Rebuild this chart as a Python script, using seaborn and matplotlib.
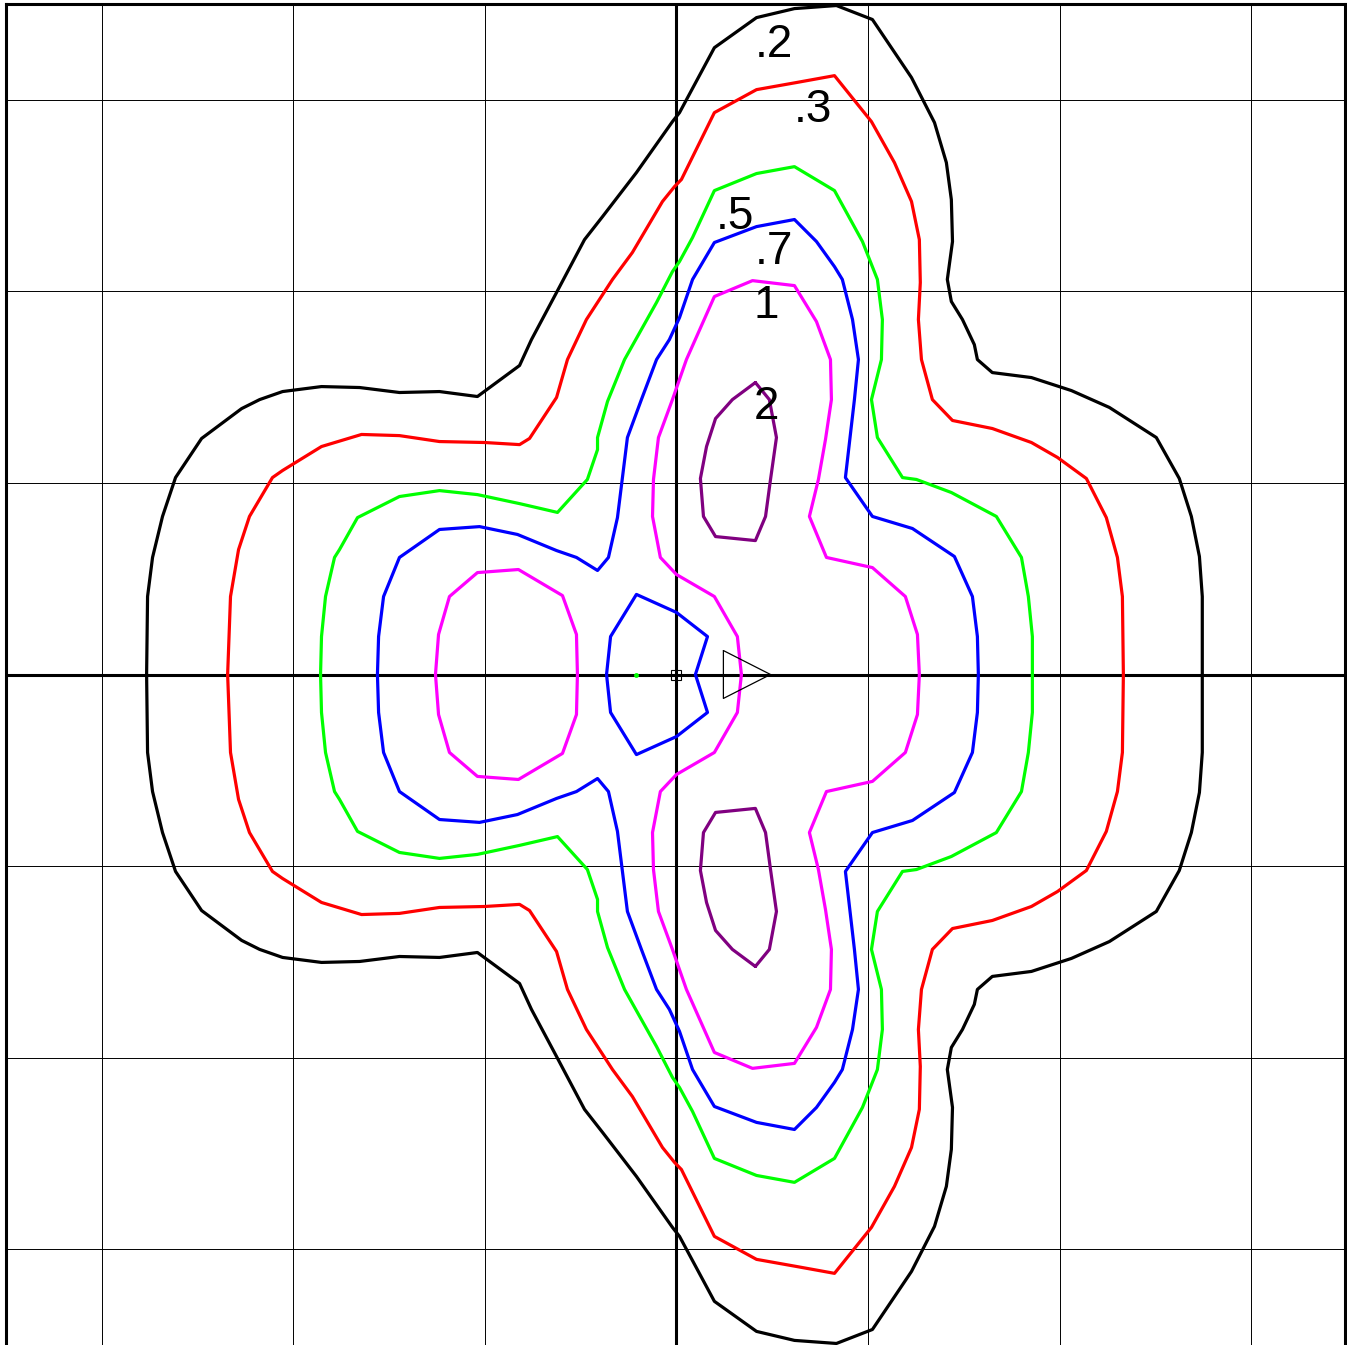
import numpy as np
import pandas as pd
import seaborn as sns
import matplotlib
matplotlib.use("Agg")
import matplotlib.pyplot as plt

# contour levels and colours
levels = [".2", ".3", ".5", ".7", "1", "2"]
level_colors = ["#000000", "#ff0000", "#00ff00", "#0000ff", "#ff00ff", "#800080"]

# contour vertices (grid unit = 1).
# the field is symmetric about y = 0, so only the upper half is listed
# and the lower half is its mirror image.
c02_x = [-2.766, -2.761, -2.735, -2.683, -2.615, -2.479, -2.270, -2.176, -2.056, -1.853,
         -1.654, -1.446, -1.237, -1.039, -0.819, -0.757, -0.626, -0.480, -0.386, -0.209,
         -0.021, 0.016, 0.198, 0.418, 0.616, 0.835, 1.023, 1.227, 1.347, 1.409, 1.435,
         1.441, 1.414, 1.435, 1.493, 1.555, 1.571, 1.649, 1.853, 2.062, 2.260, 2.505,
         2.625, 2.688, 2.730, 2.745, 2.745]
c02_y = [0.0, 0.407, 0.611, 0.825, 1.028, 1.232, 1.388, 1.435, 1.477, 1.503,
         1.498, 1.472, 1.477, 1.451, 1.613, 1.748, 1.994, 2.270, 2.390, 2.620,
         2.886, 2.933, 3.272, 3.429, 3.476, 3.492, 3.419, 3.116, 2.881, 2.672, 2.479,
         2.260, 2.062, 1.947, 1.853, 1.722, 1.644, 1.576, 1.550, 1.482, 1.394, 1.237,
         1.023, 0.825, 0.616, 0.407, 0.0]

c03_x = [-2.343, -2.328, -2.286, -2.229, -2.109, -2.056, -1.853, -1.644, -1.446, -1.237,
         -1.002, -0.819, -0.767, -0.626, -0.569, -0.470, -0.334, -0.230, -0.073, -0.010,
         0.026, 0.198, 0.418, 0.626, 0.825, 1.018, 1.138, 1.227, 1.268, 1.273, 1.263,
         1.279, 1.336, 1.441, 1.649, 1.853, 1.989, 2.140, 2.244, 2.302, 2.328, 2.333]
c03_y = [0.0, 0.407, 0.652, 0.825, 1.028, 1.065, 1.190, 1.253, 1.247, 1.216,
         1.211, 1.200, 1.232, 1.446, 1.644, 1.853, 2.062, 2.203, 2.469, 2.547,
         2.584, 2.933, 3.053, 3.090, 3.126, 2.886, 2.672, 2.469, 2.270, 2.046, 1.853,
         1.644, 1.435, 1.326, 1.284, 1.211, 1.133, 1.023, 0.819, 0.611, 0.407, 0.0]

c05_x = [-1.858, -1.853, -1.832, -1.785, -1.759, -1.665, -1.446, -1.237, -1.039, -0.819,
         -0.621, -0.465, -0.412, -0.412, -0.360, -0.271, -0.104, -0.021, 0.016, 0.084,
         0.198, 0.418, 0.616, 0.825, 0.971, 1.049, 1.075, 1.070, 1.018, 1.049, 1.180,
         1.253, 1.435, 1.670, 1.801, 1.837, 1.858, 1.858]
c05_y = [0.0, 0.198, 0.407, 0.611, 0.652, 0.819, 0.929, 0.960, 0.939, 0.892,
         0.846, 1.018, 1.174, 1.237, 1.425, 1.644, 1.942, 2.103, 2.156, 2.281,
         2.526, 2.615, 2.651, 2.526, 2.260, 2.062, 1.853, 1.644, 1.435, 1.237, 1.028,
         1.018, 0.950, 0.825, 0.611, 0.407, 0.198, 0.0]

c07_x = [-1.561, -1.555, -1.529, -1.446, -1.237, -1.028, -0.830, -0.626, -0.522, -0.412,
         -0.355, -0.308, -0.282, -0.256, -0.183, -0.104, -0.037, 0.016, 0.084, 0.198,
         0.418, 0.616, 0.731, 0.825, 0.866, 0.919, 0.950, 0.929, 0.882, 1.023, 1.232,
         1.451, 1.545, 1.571, 1.576]
c07_y = [0.0, 0.198, 0.407, 0.611, 0.757, 0.772, 0.731, 0.647, 0.611, 0.543,
         0.611, 0.819, 1.028, 1.237, 1.435, 1.644, 1.748, 1.863, 2.062, 2.255,
         2.338, 2.375, 2.260, 2.129, 2.062, 1.853, 1.644, 1.435, 1.028, 0.825, 0.762,
         0.616, 0.407, 0.198, 0.0]

c07_inner_x = [-0.365, -0.344, -0.209, 0.0, 0.162, 0.099]
c07_inner_y = [0.0, 0.198, 0.418, 0.324, 0.198, 0.0]

c1_left_x = [-1.258, -1.242, -1.185, -1.039, -0.825, -0.595, -0.522, -0.517]
c1_left_y = [0.0, 0.209, 0.407, 0.532, 0.548, 0.412, 0.209, 0.0]

c1_mid_x = [0.339, 0.318, 0.198, 0.0, -0.084, -0.125, -0.120, -0.094, -0.021, 0.052,
            0.198, 0.397, 0.616, 0.731, 0.804, 0.809, 0.778, 0.741, 0.694, 0.783,
            1.023, 1.195, 1.258, 1.268]
c1_mid_y = [0.0, 0.198, 0.407, 0.522, 0.611, 0.825, 1.018, 1.237, 1.435, 1.644,
            1.973, 2.056, 2.030, 1.842, 1.644, 1.435, 1.227, 1.018, 0.825, 0.611,
            0.558, 0.407, 0.209, 0.0]

# level 2: closed loop above the axis (and its mirror below)
c2_x = [0.412, 0.292, 0.204, 0.157, 0.125, 0.141, 0.204, 0.412, 0.465, 0.491, 0.522, 0.485, 0.412]
c2_y = [1.524, 1.435, 1.336, 1.190, 1.023, 0.825, 0.720, 0.699, 0.825, 1.018, 1.237, 1.435, 1.524]

# label positions
label_x = [0.511, 0.710, 0.303, 0.511, 0.470, 0.470]
label_y = [3.288, 2.949, 2.390, 2.203, 1.921, 1.394]

# pointer triangle, origin marker and small green dot
pointer_x = [0.245, 0.245, 0.491, 0.245]
pointer_y = [0.125, -0.125, 0.0, 0.125]
dot_x, dot_y = -0.209, 0.0

grid_ticks = [-3, -2, -1, 0, 1, 2, 3]


def mirror_closed(xs, ys):
    # upper half (from y=0 to y=0) followed by its reflection back to the start
    x = list(xs) + list(xs[::-1])[1:]
    y = list(ys) + [-v for v in ys[::-1]][1:]
    return x, y


rows = []
def add(name, level, xs, ys):
    for i, (a, b) in enumerate(zip(xs, ys)):
        rows.append({"piece": name, "level": level, "order": i, "x": a, "y": b})

add("c02", ".2", *mirror_closed(c02_x, c02_y))
add("c03", ".3", *mirror_closed(c03_x, c03_y))
add("c05", ".5", *mirror_closed(c05_x, c05_y))
add("c07", ".7", *mirror_closed(c07_x, c07_y))
add("c07i", ".7", *mirror_closed(c07_inner_x, c07_inner_y))
add("c1l", "1", *mirror_closed(c1_left_x, c1_left_y))
add("c1m", "1", *mirror_closed(c1_mid_x, c1_mid_y))
add("c2u", "2", c2_x, c2_y)
add("c2d", "2", c2_x, [-v for v in c2_y])
df = pd.DataFrame(rows)

sns.set_style("white")
plt.rcParams["font.family"] = ["Liberation Sans", "DejaVu Sans"]

fig = plt.figure(figsize=(13.47, 13.45), dpi=100)
ax = fig.add_axes([6 / 1347, 0.0, 1339 / 1347, 1341 / 1345])

for t in grid_ticks:
    ax.axvline(t, color="black", lw=2.2 if t == 0 else 0.7, zorder=1)
    ax.axhline(t, color="black", lw=2.2 if t == 0 else 0.7, zorder=1)

sns.lineplot(data=df, x="x", y="y", hue="level", units="piece", estimator=None,
             sort=False, hue_order=levels, palette=level_colors, lw=2.3,
             legend=False, ax=ax, zorder=3)

ax.plot(pointer_x, pointer_y, color="black", lw=0.9, zorder=4)
ax.plot([0], [0], marker="s", ms=7, mfc="none", mec="black", mew=0.8, zorder=4)
ax.plot([dot_x], [dot_y], marker="o", ms=2.5, color="#00ff00", zorder=4)

for lab, lx, ly in zip(levels, label_x, label_y):
    ax.text(lx, ly, lab, fontsize=33, ha="center", va="center", color="black", zorder=5)

ax.set_xlim(-3.5, 3.49)
ax.set_ylim(-3.5, 3.5)
ax.set_xticks([])
ax.set_yticks([])
ax.set_xlabel("")
ax.set_ylabel("")
for s in ax.spines.values():
    s.set_color("black")
    s.set_linewidth(2.2)
ax.spines["bottom"].set_color("#d0d0d0")
ax.spines["bottom"].set_linewidth(0.7)

fig.savefig("out.png", dpi=100)
